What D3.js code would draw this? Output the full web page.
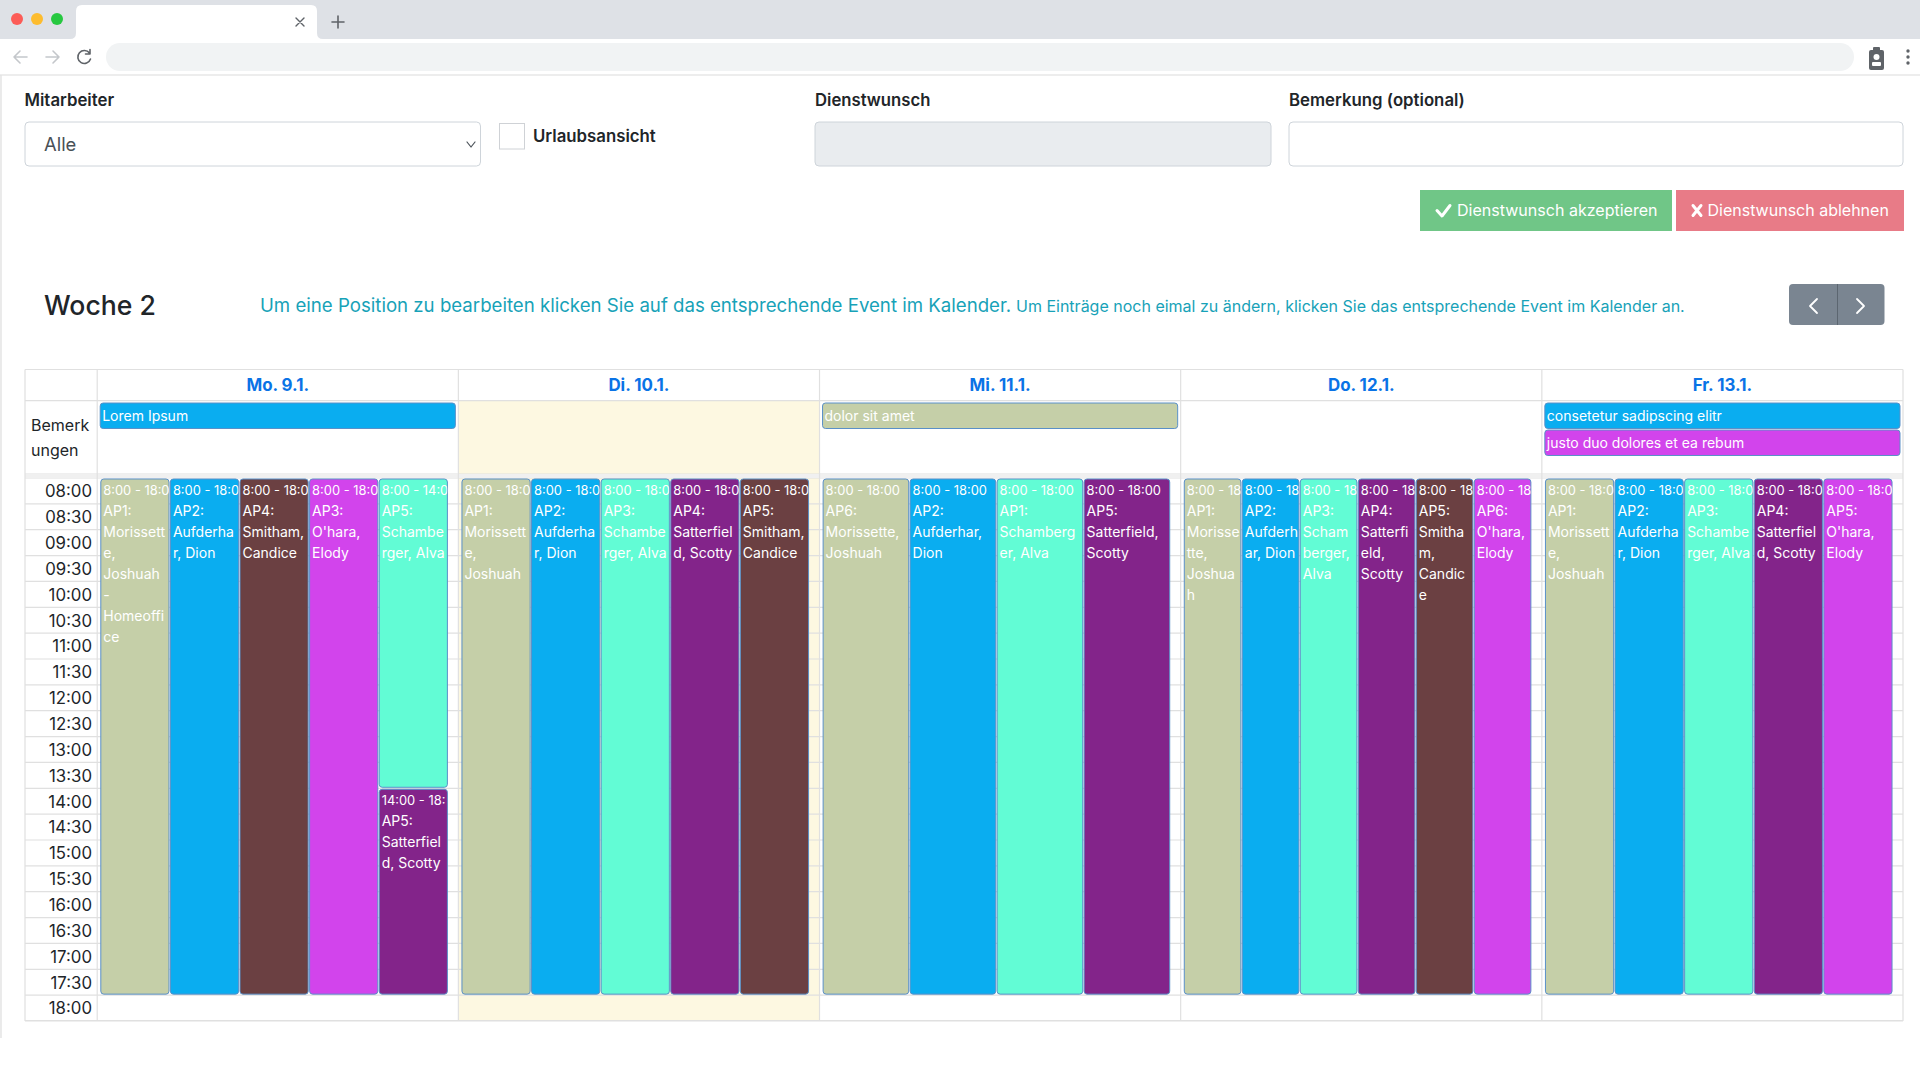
<!DOCTYPE html>
<html>
<head>
<meta charset="utf-8">
<title>Dienstplan</title>
<script src="https://d3js.org/d3.v7.min.js"></script>
<style>
  html, body { margin: 0; padding: 0; background: #fff; overflow: hidden; }
  svg { display: block; }
  text { font-family: Inter, "Noto Sans", sans-serif; fill: #212529; }
</style>
</head>
<body>
<svg id="page" width="1920" height="1080"></svg>
<script>
// calendar data
var days = ['Mo. 9.1.', 'Di. 10.1.', 'Mi. 11.1.', 'Do. 12.1.', 'Fr. 13.1.'];
var highlightedDay = 'Di. 10.1.';
var timeLabels = ['08:00', '08:30', '09:00', '09:30', '10:00', '10:30', '11:00', '11:30', '12:00', '12:30',
    '13:00', '13:30', '14:00', '14:30', '15:00', '15:30', '16:00', '16:30', '17:00', '17:30', '18:00'];
var employees = ['Morissette', 'Aufderhar', 'Smitham', "O'hara", 'Schamberger', 'Satterfield'];
var employeeColors = ['#c5cfa8', '#0aadf0', '#6b4042', '#d244ec', '#62fcd5', '#83248a'];

// day, employee, text
var notes = [
    ['Mo. 9.1.', 'Aufderhar', 'Lorem Ipsum'],
    ['Mi. 11.1.', 'Morissette', 'dolor sit amet'],
    ['Fr. 13.1.', 'Aufderhar', 'consetetur sadipscing elitr'],
    ['Fr. 13.1.', "O'hara", 'justo duo dolores et ea rebum']
];

// position, employee, start, end, wrapped text
var mondayShifts = [
    ['AP1', 'Morissette', 8, 18, ['AP1:', 'Morissett', 'e,', 'Joshuah', '-', 'Homeoffi', 'ce']],
    ['AP2', 'Aufderhar', 8, 18, ['AP2:', 'Aufderha', 'r, Dion']],
    ['AP4', 'Smitham', 8, 18, ['AP4:', 'Smitham,', 'Candice']],
    ['AP3', "O'hara", 8, 18, ['AP3:', "O'hara,", 'Elody']],
    ['AP5', 'Schamberger', 8, 14, ['AP5:', 'Schambe', 'rger, Alva']],
    ['AP5', 'Satterfield', 14, 18, ['AP5:', 'Satterfiel', 'd, Scotty']]
];
var tuesdayShifts = [
    ['AP1', 'Morissette', 8, 18, ['AP1:', 'Morissett', 'e,', 'Joshuah']],
    ['AP2', 'Aufderhar', 8, 18, ['AP2:', 'Aufderha', 'r, Dion']],
    ['AP3', 'Schamberger', 8, 18, ['AP3:', 'Schambe', 'rger, Alva']],
    ['AP4', 'Satterfield', 8, 18, ['AP4:', 'Satterfiel', 'd, Scotty']],
    ['AP5', 'Smitham', 8, 18, ['AP5:', 'Smitham,', 'Candice']]
];
var wednesdayShifts = [
    ['AP6', 'Morissette', 8, 18, ['AP6:', 'Morissette,', 'Joshuah']],
    ['AP2', 'Aufderhar', 8, 18, ['AP2:', 'Aufderhar,', 'Dion']],
    ['AP1', 'Schamberger', 8, 18, ['AP1:', 'Schamberg', 'er, Alva']],
    ['AP5', 'Satterfield', 8, 18, ['AP5:', 'Satterfield,', 'Scotty']]
];
var thursdayShifts = [
    ['AP1', 'Morissette', 8, 18, ['AP1:', 'Morisse', 'tte,', 'Joshua', 'h']],
    ['AP2', 'Aufderhar', 8, 18, ['AP2:', 'Aufderh', 'ar, Dion']],
    ['AP3', 'Schamberger', 8, 18, ['AP3:', 'Scham', 'berger,', 'Alva']],
    ['AP4', 'Satterfield', 8, 18, ['AP4:', 'Satterfi', 'eld,', 'Scotty']],
    ['AP5', 'Smitham', 8, 18, ['AP5:', 'Smitha', 'm,', 'Candic', 'e']],
    ['AP6', "O'hara", 8, 18, ['AP6:', "O'hara,", 'Elody']]
];
var fridayShifts = [
    ['AP1', 'Morissette', 8, 18, ['AP1:', 'Morissett', 'e,', 'Joshuah']],
    ['AP2', 'Aufderhar', 8, 18, ['AP2:', 'Aufderha', 'r, Dion']],
    ['AP3', 'Schamberger', 8, 18, ['AP3:', 'Schambe', 'rger, Alva']],
    ['AP4', 'Satterfield', 8, 18, ['AP4:', 'Satterfiel', 'd, Scotty']],
    ['AP5', "O'hara", 8, 18, ['AP5:', "O'hara,", 'Elody']]
];
var weekShifts = [mondayShifts, tuesdayShifts, wednesdayShifts, thursdayShifts, fridayShifts];

var svg = d3.select('#page');
var grid = '#e0e0e0';

function label(g, x, y, str, size, weight, color, anchor) {
    return g.append('text')
        .attr('x', x).attr('y', y)
        .attr('dy', '0.36em')
        .attr('text-anchor', anchor || 'start')
        .style('font-size', size + 'px')
        .style('font-weight', weight || 400)
        .style('fill', color || '#212529')
        .text(str);
}

function box(g, x, y, w, h, fill, stroke, r) {
    return g.append('rect')
        .attr('x', x).attr('y', y).attr('width', w).attr('height', h)
        .attr('rx', r || 0)
        .attr('fill', fill)
        .attr('stroke', stroke || 'none');
}

function stroke(g, d, color, width) {
    return g.append('path').attr('d', d).attr('fill', 'none')
        .attr('stroke', color).attr('stroke-width', width)
        .attr('stroke-linecap', 'round').attr('stroke-linejoin', 'round');
}

// browser window
var chrome = svg.append('g');
box(chrome, 0, 0, 1920, 39, '#dee1e6');
chrome.append('path').attr('fill', '#fff')
    .attr('d', 'M70,39 Q76,39 76,33 V11 Q76,5 82,5 H311 Q317,5 317,11 V33 Q317,39 323,39 Z');
chrome.selectAll('circle.dot').data(['#fc5c57', '#fdbc2e', '#27c840']).enter().append('circle')
    .attr('cx', function(d, i) { return 17 + i * 20; })
    .attr('cy', 19).attr('r', 6)
    .attr('fill', function(d) { return d; });
stroke(chrome, 'M296,18 L304,26 M304,18 L296,26', '#5f6368', 1.4);
stroke(chrome, 'M338,16 V28 M332,22 H344', '#5f6368', 1.6);
box(chrome, 106, 43, 1748, 28, '#f1f3f4', null, 14);
stroke(chrome, 'M14,57 H27 M14,57 L20,51 M14,57 L20,63', '#c4c7cb', 1.6);
stroke(chrome, 'M46,57 H59 M59,57 L53,51 M59,57 L53,63', '#c4c7cb', 1.6);
stroke(chrome, 'M89.5,53 A6.5,6.5 0 1 0 90.5,59 M90,49.5 V54 H85.5', '#5f6368', 1.6);
box(chrome, 1869, 50, 15, 20, '#5f6368', null, 2);
box(chrome, 1873, 47, 7, 4, '#5f6368', null, 1);
chrome.append('circle').attr('cx', 1876.5).attr('cy', 57).attr('r', 3).attr('fill', '#fff');
box(chrome, 1872, 62, 9, 4, '#fff', null, 1);
chrome.selectAll('circle.kebab').data([51, 57, 63]).enter().append('circle')
    .attr('cx', 1908).attr('cy', function(d) { return d; }).attr('r', 1.7).attr('fill', '#5f6368');
chrome.append('path').attr('d', 'M0,75 H1920').attr('stroke', '#dcdcdc').attr('stroke-width', 1.2);
chrome.append('path').attr('d', 'M1,75 V1038').attr('stroke', '#e2e2e2').attr('stroke-width', 1.4);

// form above the calendar
var form = svg.append('g');
label(form, 24.5, 100, 'Mitarbeiter', 16.8, 600);
box(form, 25, 122, 455.5, 44, '#fff', '#ced4da', 4);
label(form, 44, 144.5, 'Alle', 18.4, 400, '#495057');
stroke(form, 'M467,142 L471,147 L475,142', '#495057', 1.2);
box(form, 499.5, 123.5, 25, 25.5, '#fff', '#cfd2d6', 0);
label(form, 533, 136, 'Urlaubsansicht', 16.8, 600);
label(form, 815, 100, 'Dienstwunsch', 16.7, 600);
box(form, 815, 122, 456, 44, '#e9ecef', '#ced4da', 4);
label(form, 1289, 100, 'Bemerkung (optional)', 16.8, 600);
box(form, 1289, 122, 614, 44, '#fff', '#ced4da', 4);

box(form, 1420, 190, 252, 41, '#70c687');
box(form, 1676, 190, 228, 41, '#e87b87');
stroke(form, 'M1437,210.5 L1442,216 L1450,205.5', '#fff', 3);
label(form, 1457, 210.5, 'Dienstwunsch akzeptieren', 16.05, 400, '#fff');
stroke(form, 'M1693,205.5 L1701,215.5 M1701,205.5 L1693,215.5', '#fff', 3);
label(form, 1707.5, 210.5, 'Dienstwunsch ablehnen', 16, 400, '#fff');

label(form, 44, 305, 'Woche 2', 26.6, 500);
label(form, 260, 305, 'Um eine Position zu bearbeiten klicken Sie auf das entsprechende Event im Kalender.', 18.65, 400, '#17a2b8');
label(form, 1016, 306, 'Um Einträge noch eimal zu ändern, klicken Sie das entsprechende Event im Kalender an.', 16, 400, '#17a2b8');
box(form, 1789, 284, 95.5, 41, '#7a8591', null, 4);
form.append('path').attr('d', 'M1837.5,284 V325').attr('stroke', '#5c6670').attr('stroke-width', 1);
stroke(form, 'M1817,299 L1810,306 L1817,313', '#fff', 1.8);
stroke(form, 'M1857,299 L1864,306 L1857,313', '#fff', 1.8);

// calendar scales
var x = d3.scaleBand().domain(days).range([97.2, 1903]);
var timeBand = d3.scaleBand().domain(timeLabels).range([478, 1021]);
var y = d3.scaleLinear().domain([8, 18.5]).range([478, 1021]);
var color = d3.scaleOrdinal().domain(employees).range(employeeColors);

var calendar = svg.append('g');
var headerTop = 369.5, headerBottom = 400.7, noteBottom = 474;

// today column and grid
box(calendar, x(highlightedDay), headerBottom, x.bandwidth(), y.range()[1] - headerBottom, '#fdf8e1');
calendar.selectAll('line.slot').data(timeLabels).enter().append('line')
    .attr('x1', 25).attr('x2', 1903)
    .attr('y1', function(d) { return timeBand(d); })
    .attr('y2', function(d) { return timeBand(d); })
    .attr('stroke', grid).attr('stroke-width', 1.2);
calendar.selectAll('line.row').data([headerTop, headerBottom, noteBottom]).enter().append('line')
    .attr('x1', 25).attr('x2', 1903)
    .attr('y1', function(d) { return d; }).attr('y2', function(d) { return d; })
    .attr('stroke', grid).attr('stroke-width', 1.2);
box(calendar, 25, noteBottom, 1878, 4, '#f0f0f0');
box(calendar, 25, 1020, 1878, 1.5, grid);
calendar.selectAll('line.col').data([25, 97.2].concat(days.slice(1).map(function(d) { return x(d); }), [1903])).enter().append('line')
    .attr('x1', function(d) { return d; }).attr('x2', function(d) { return d; })
    .attr('y1', headerTop).attr('y2', y.range()[1])
    .attr('stroke', grid).attr('stroke-width', 1.2);

// day headers
calendar.selectAll('text.day').data(days).enter().append('text')
    .attr('class', 'day')
    .attr('x', function(d) { return x(d) + x.bandwidth() / 2; })
    .attr('y', 385).attr('dy', '0.36em')
    .attr('text-anchor', 'middle')
    .style('font-size', '16.9px').style('font-weight', 700).style('fill', '#0a73e6')
    .text(function(d) { return d; });

label(calendar, 31, 425.5, 'Bemerk', 16);
label(calendar, 31, 450, 'ungen', 16);

// time axis
var axis = calendar.append('g')
    .attr('transform', 'translate(92,1)')
    .call(d3.axisLeft(timeBand).tickSize(0).tickPadding(0));
axis.select('.domain').remove();
axis.selectAll('text')
    .style('font-size', '16.8px')
    .style('font-family', 'Inter, "Noto Sans", sans-serif')
    .style('fill', '#212529');

// notes, stacked per day
var noteSeen = {};
notes.forEach(function(n) {
    var row = noteSeen[n[0]] || 0;
    noteSeen[n[0]] = row + 1;
    var nx = x(n[0]) + 3, ny = 403 + row * 27;
    box(calendar, nx, ny, x.bandwidth() - 6, 25.5, color(n[1]), '#5a90c8', 3);
    label(calendar, nx + 2, ny + 13, n[2], 14, 400, '#fff');
});

// shifts
weekShifts.forEach(function(shifts, dayIndex) {
    var day = days[dayIndex];
    var positions = Array.from(new Set(shifts.map(function(s) { return s[0]; })));
    var slot = d3.scaleBand().domain(positions).range([x(day) + 3.6, x(day) + 351.6]);

    var groups = calendar.selectAll('g.shift' + dayIndex).data(shifts).enter().append('g');
    groups.each(function(s, i) {
        var g = d3.select(this);
        var left = slot(s[0]), w = slot.bandwidth() - 1.4;
        var top = y(s[2]) + 1, h = y(s[3]) - y(s[2]) - 2;
        var id = 'clip-' + dayIndex + '-' + i;
        g.append('clipPath').attr('id', id).append('rect')
            .attr('x', left).attr('y', top).attr('width', w).attr('height', h);
        box(g, left, top, w, h, color(s[1]), '#5a90c8', 3);
        var inner = g.append('g').attr('clip-path', 'url(#' + id + ')');
        // the time range is cut off where the event ends
        var time = label(inner, left + 2.5, top + 11.5, s[2] + ':00 - ' + s[3] + ':00', 12.9, 400, '#fff');
        var shown = time.text();
        while (time.node().getComputedTextLength() > w - 1) {
            shown = shown.slice(0, -1);
            time.text(shown);
        }
        s[4].forEach(function(line, n) {
            label(inner, left + 2.5, top + 32 + n * 21, line, 14, 400, '#fff');
        });
    });
});
</script>
</body>
</html>
